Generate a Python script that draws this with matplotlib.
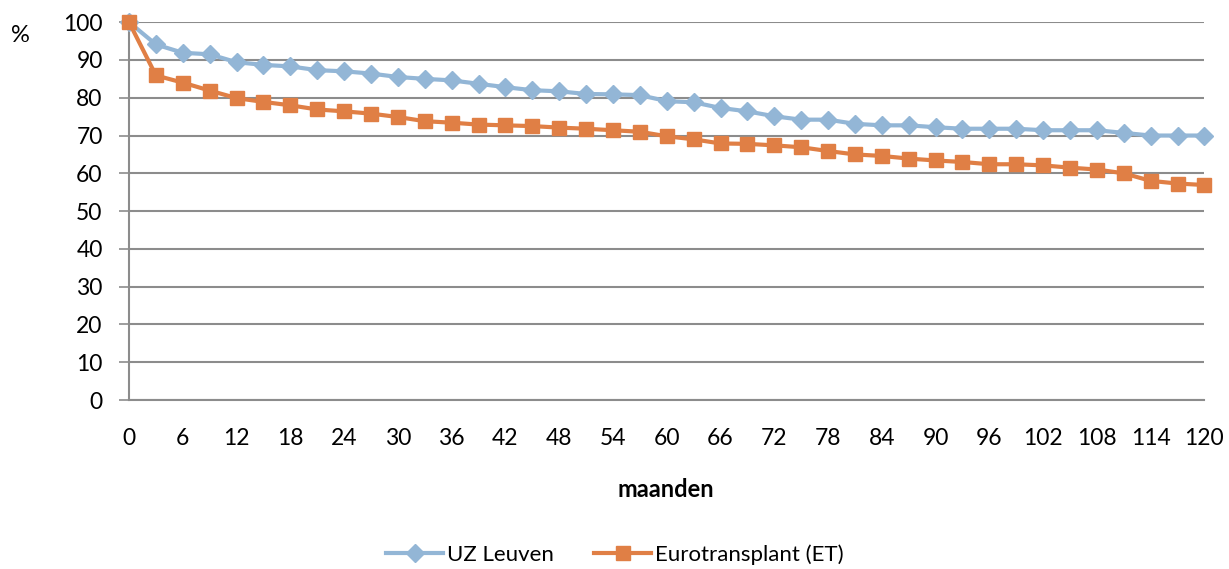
import matplotlib
matplotlib.use("Agg")
import matplotlib.pyplot as plt
import numpy as np

plt.rcParams["font.family"] = ["Lato", "DejaVu Sans"]

# follow-up in months, one point every 3 months
months = list(range(0, 121, 3))
uz_leuven = [
    100, 94.1, 91.9, 91.5, 89.4, 88.7, 88.3, 87.3, 87.0, 86.4,
    85.5, 85.0, 84.6, 83.7, 82.8, 82.0, 81.7, 81.0, 80.9, 80.7,
    79.1, 78.8, 77.3, 76.4, 75.1, 74.2, 74.2, 73.1, 72.7, 72.7,
    72.2, 71.8, 71.8, 71.8, 71.4, 71.4, 71.4, 70.7, 70.0, 70.0, 70.0,
]
eurotransplant = [
    100, 85.9, 84.0, 81.9, 79.9, 78.9, 78.0, 76.9, 76.4, 75.8,
    74.9, 73.8, 73.4, 72.9, 72.7, 72.5, 72.1, 71.8, 71.4, 71.0,
    69.8, 69.0, 67.9, 67.8, 67.4, 66.9, 65.9, 65.0, 64.6, 63.9,
    63.4, 63.0, 62.4, 62.4, 62.1, 61.5, 61.0, 60.0, 58.0, 57.3, 56.9,
]
series_names = ["UZ Leuven", "Eurotransplant (ET)"]

BLUE = "#93b6d6"
ORANGE = "#e07f45"
GRID = "#8c8c8c"

fig = plt.figure(figsize=(12.29, 5.69), dpi=100, facecolor="white")
ax = fig.add_axes([0.105, 0.297, 0.875, 0.664])

ax.plot(months, uz_leuven, color=BLUE, lw=3, marker="D", ms=9.5,
        mec=BLUE, mfc=BLUE, label=series_names[0], zorder=3, clip_on=False)
ax.plot(months, eurotransplant, color=ORANGE, lw=3, marker="s", ms=10,
        mec=ORANGE, mfc=ORANGE, label=series_names[1], zorder=4, clip_on=False)

ax.set_xlim(0, 120)
ax.set_ylim(0, 100)
ax.set_xticks(np.arange(0, 121, 6))
ax.set_yticks(np.arange(0, 101, 10))
ax.tick_params(axis="both", labelsize=16.5, colors="black")
ax.tick_params(axis="y", length=7, width=1.2, color=GRID, pad=12)
ax.tick_params(axis="x", length=0, pad=20)
ax.grid(axis="y", color=GRID, lw=1.5)
ax.set_axisbelow(True)
for side in ["top", "right"]:
    ax.spines[side].set_visible(False)
for side in ["left", "bottom"]:
    ax.spines[side].set_color(GRID)
    ax.spines[side].set_linewidth(1.5)

fig.text(0.009, 0.938, "%", fontsize=17, ha="left", va="center")
fig.text(0.542, 0.139, "maanden", fontsize=17, fontweight="bold",
         ha="center", va="center")

fig.legend(loc="center", bbox_to_anchor=(0.5, 0.025), ncol=2, frameon=False,
           fontsize=16, handlelength=2.6, handletextpad=0.15, columnspacing=1.8)

fig.savefig("out.png", dpi=100, facecolor="white")
